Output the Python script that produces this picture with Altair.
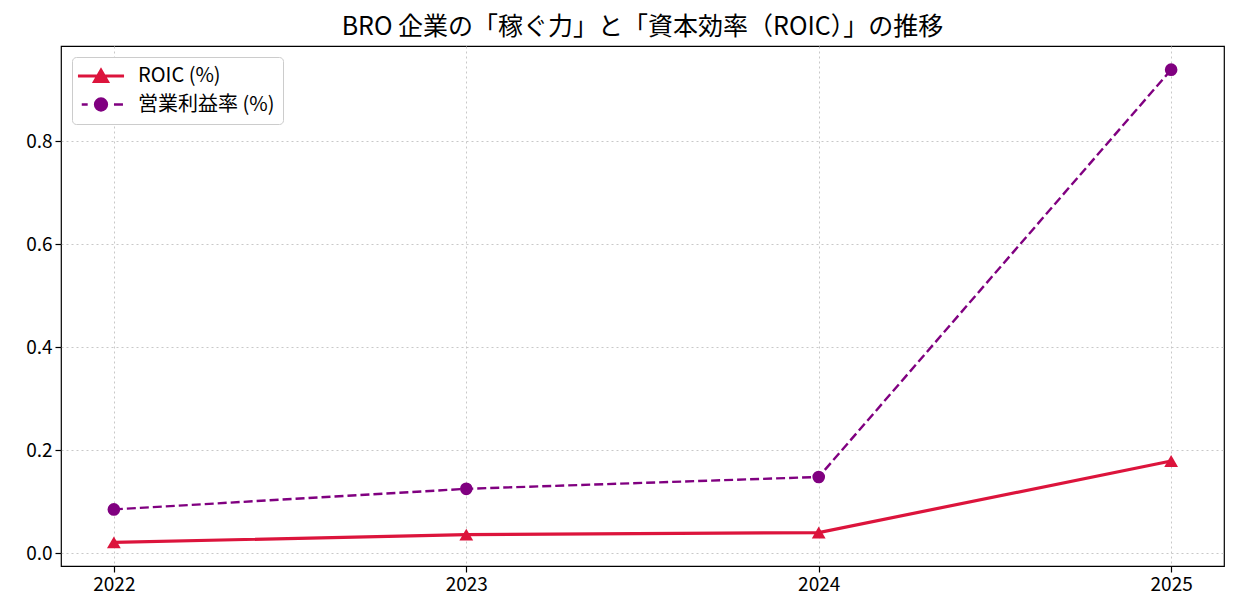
import altair as alt
import pandas as pd

years = [2022, 2023, 2024, 2025]
roic = [0.021, 0.036, 0.040, 0.179]
opm = [0.085, 0.125, 0.148, 0.939]
series_names = ["ROIC (%)", "営業利益率 (%)"]
colors = ["#dc143c", "#800080"]
title_text = "BRO 企業の「稼ぐ力」と「資本効率（ROIC）」の推移"

FONT = "Noto Sans CJK JP"

rows = []
for y, r, o in zip(years, roic, opm):
    rows.append({"year": y, "value": r, "series": series_names[0]})
    rows.append({"year": y, "value": o, "series": series_names[1]})
df = pd.DataFrame(rows)

xenc = alt.X("year:Q", scale=alt.Scale(domain=[2021.85, 2025.15], nice=False, zero=False),
             axis=alt.Axis(values=years, format="d", title=None))
yenc = alt.Y("value:Q", scale=alt.Scale(domain=[-0.0249, 0.985], nice=False, zero=False),
             axis=alt.Axis(values=[0.0, 0.2, 0.4, 0.6, 0.8], format=".1f", title=None))

base = alt.Chart(df).encode(x=xenc, y=yenc)

line_roic = base.transform_filter(alt.datum.series == series_names[0]).mark_line(
    color=colors[0], strokeWidth=3.2)
line_opm = base.transform_filter(alt.datum.series == series_names[1]).mark_line(
    color=colors[1], strokeWidth=2.4, strokeDash=[9, 4])
pt_roic = base.transform_filter(alt.datum.series == series_names[0]).mark_point(
    shape="triangle-up", filled=True, color=colors[0], size=190, opacity=1)
pt_opm = base.transform_filter(alt.datum.series == series_names[1]).mark_point(
    shape="circle", filled=True, color=colors[1], size=160, opacity=1)

# legend glyphs (unit = 9 px)
legend_paths = [
    "M-2.56,0H2.56M-0.7,0.6L0.7,0.6L0,-0.62Z",
    "M-2.14,0H-1.48M1.44,0H2.44M0.66,0A0.66,0.66,0,1,1,-0.66,0A0.66,0.66,0,1,1,0.66,0Z",
]

leg = alt.Legend(
    title=None, orient="top-left", offset=11, padding=8,
    strokeColor="#cccccc", fillColor="white", cornerRadius=4,
    labelFont=FONT, labelFontSize=20, labelColor="black",
    labelOffset=26, symbolOffset=10, rowPadding=5, symbolSize=324,
    symbolOpacity=1,
)

legend_layer = base.transform_filter(alt.datum.value < -100).mark_point(
    filled=False, size=324, opacity=1).encode(
    fill=alt.Fill("series:N", scale=alt.Scale(domain=series_names, range=colors), legend=leg),
    stroke=alt.Stroke("series:N", scale=alt.Scale(domain=series_names, range=colors), legend=leg),
    shape=alt.Shape("series:N", scale=alt.Scale(domain=series_names, range=legend_paths), legend=leg),
    strokeWidth=alt.StrokeWidth("series:O", scale=alt.Scale(domain=series_names, range=[3.2, 2.4]), legend=leg),
)

chart = alt.layer(line_roic, line_opm, pt_roic, pt_opm, legend_layer).properties(
    width=1163, height=520,
    title=alt.TitleParams(title_text, font=FONT, fontSize=25, fontWeight="normal",
                          color="black", anchor="middle", offset=6),
    autosize=alt.AutoSizeParams(type="none"),
    padding={"left": 61, "top": 46, "right": 14, "bottom": 50},
    background="white",
).configure(font=FONT).configure_view(stroke="black", strokeWidth=1.2).configure_axis(
    grid=True, gridColor="#c8c8c8", gridDash=[2, 3], gridWidth=1,
    domain=False, tickColor="black", tickSize=6, tickWidth=1.2,
    labelFont=FONT, labelFontSize=19, labelColor="black", labelPadding=3,
)

chart.save("out.html", embed_options={"renderer": "svg", "actions": False})
